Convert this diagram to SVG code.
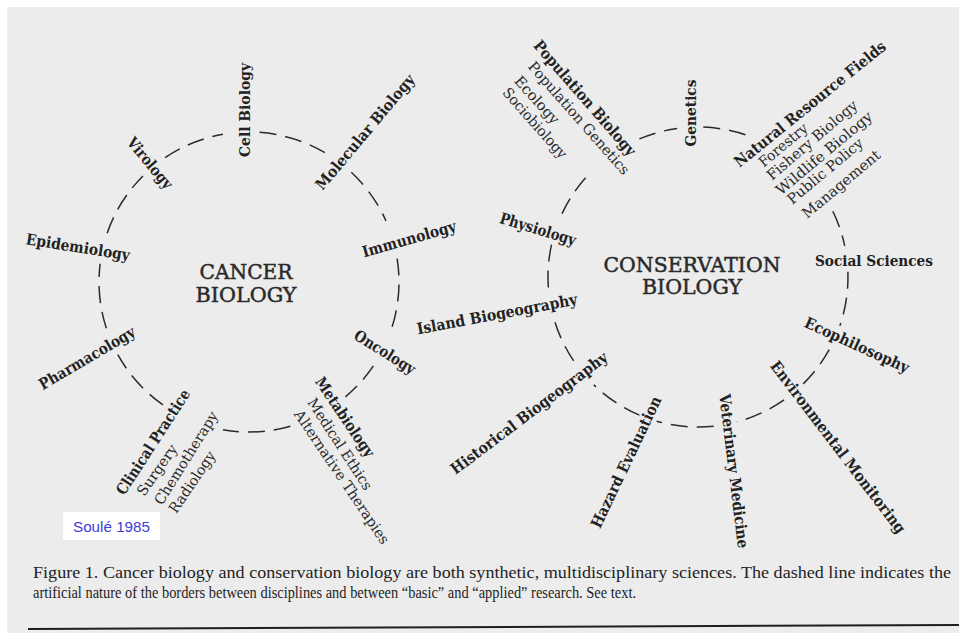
<svg xmlns="http://www.w3.org/2000/svg" width="959" height="633" viewBox="0 0 959 633">
<defs>
<style>
.bg{fill:#ececec}
.arc{fill:none;stroke:#2a2a2a;stroke-width:1.5;stroke-dasharray:17 9}
.b{font-family:"DejaVu Serif","Liberation Serif",serif;font-weight:bold;font-size:15.5px;fill:#222}
.r{font-family:"DejaVu Serif","Liberation Serif",serif;font-size:14.5px;fill:#2a2a2a}
.big{font-family:"DejaVu Serif","Liberation Serif",serif;font-size:21px;fill:#2a2a2a;stroke:#2a2a2a;stroke-width:0.5}
.cap{font-family:"Liberation Serif","Times New Roman",serif;font-size:16.5px;fill:#1e1e1e}
.src{font-family:"Liberation Sans",Arial,sans-serif;font-size:15px;fill:#3d3dd6}
</style>
</defs>
<rect width="959" height="633" fill="#ffffff"/>
<rect class="bg" x="7" y="7" width="952" height="626"/>

<g id="connectors">
<g id="cancer-border">
<path class="arc" d="M397.15,258.54 A150,150 0 0 1 389.95,333.30"/>
<path class="arc" d="M373.36,365.88 A150,150 0 0 1 345.42,396.91"/>
<path class="arc" d="M290.35,426.19 A150,150 0 0 1 222.95,429.72"/>
<path class="arc" d="M162.96,404.87 A150,150 0 0 1 117.81,354.72"/>
<path class="arc" d="M106.34,328.35 A150,150 0 0 1 100.12,263.72"/>
<path class="arc" d="M107.17,233.16 A150,150 0 0 1 142.93,175.93"/>
<path class="arc" d="M165.12,157.64 A150,150 0 0 1 222.95,134.28"/>
<path class="arc" d="M259.46,132.37 A150,150 0 0 1 326.26,153.42"/>
<path class="arc" d="M351.30,172.30 A150,150 0 0 1 386.03,220.99"/>
</g>
<g id="conservation-border">
<path class="arc" d="M847.91,271.76 A150,150 0 0 1 839.83,325.84"/>
<path class="arc" d="M829.19,349.72 A150,150 0 0 1 802.20,384.90"/>
<path class="arc" d="M784.04,399.87 A150,150 0 0 1 736.82,421.89"/>
<path class="arc" d="M713.68,426.18 A150,150 0 0 1 656.65,421.19"/>
<path class="arc" d="M639.39,415.08 A150,150 0 0 1 593.80,384.90"/>
<path class="arc" d="M573.64,360.88 A150,150 0 0 1 553.11,315.82"/>
<path class="arc" d="M548.37,287.46 A150,150 0 0 1 551.84,243.26"/>
<path class="arc" d="M562.05,213.61 A150,150 0 0 1 590.10,172.80"/>
<path class="arc" d="M639.39,138.93 A150,150 0 0 1 677.12,128.46"/>
<path class="arc" d="M703.24,127.09 A150,150 0 0 1 746.84,135.17"/>
<path class="arc" d="M832.82,211.24 A150,150 0 0 1 844.72,245.81"/>
</g>
</g>

<g id="cancer-biology" text-anchor="middle">
<text class="big" x="246" y="279" textLength="93" lengthAdjust="spacingAndGlyphs">CANCER</text>
<text class="big" x="246" y="302" textLength="101" lengthAdjust="spacingAndGlyphs">BIOLOGY</text>
</g>
<g id="cell-biology" text-anchor="middle"><text class="b" transform="translate(245 110) rotate(-90)" dy="0.35em" textLength="94" lengthAdjust="spacingAndGlyphs">Cell Biology</text></g>
<g id="virology" text-anchor="middle"><text class="b" transform="translate(150 163) rotate(50)" dy="0.35em" textLength="62" lengthAdjust="spacingAndGlyphs">Virology</text></g>
<g id="molecular-biology" text-anchor="middle"><text class="b" transform="translate(365 132) rotate(-50)" dy="0.35em" textLength="145" lengthAdjust="spacingAndGlyphs">Molecular Biology</text></g>
<g id="epidemiology" text-anchor="middle"><text class="b" transform="translate(78 247) rotate(9)" dy="0.35em" textLength="105" lengthAdjust="spacingAndGlyphs">Epidemiology</text></g>
<g id="immunology" text-anchor="middle"><text class="b" transform="translate(409 239) rotate(-16)" dy="0.35em" textLength="97" lengthAdjust="spacingAndGlyphs">Immunology</text></g>
<g id="pharmacology" text-anchor="middle"><text class="b" transform="translate(87 358) rotate(-30.5)" dy="0.35em" textLength="109" lengthAdjust="spacingAndGlyphs">Pharmacology</text></g>
<g id="oncology" text-anchor="middle"><text class="b" transform="translate(385 352) rotate(32)" dy="0.35em" textLength="69" lengthAdjust="spacingAndGlyphs">Oncology</text></g>
<g id="clinical-practice" text-anchor="middle">
<text class="b" transform="translate(153 442) rotate(-57)" dy="0.35em" textLength="122" lengthAdjust="spacingAndGlyphs">Clinical Practice</text>
<text class="r" transform="translate(157 470) rotate(-55)" dy="0.35em" textLength="59" lengthAdjust="spacingAndGlyphs">Surgery</text>
<text class="r" transform="translate(186 458) rotate(-58)" dy="0.35em" textLength="107" lengthAdjust="spacingAndGlyphs">Chemotherapy</text>
<text class="r" transform="translate(192 482) rotate(-56)" dy="0.35em" textLength="71" lengthAdjust="spacingAndGlyphs">Radiology</text>
</g>
<g id="metabiology" text-anchor="middle">
<text class="b" transform="translate(345 417) rotate(56)" dy="0.35em" textLength="93" lengthAdjust="spacingAndGlyphs">Metabiology</text>
<text class="r" transform="translate(340 444) rotate(57)" dy="0.35em" textLength="106" lengthAdjust="spacingAndGlyphs">Medical Ethics</text>
<text class="r" transform="translate(342 477) rotate(56)" dy="0.35em" textLength="158" lengthAdjust="spacingAndGlyphs">Alternative Therapies</text>
</g>

<g id="conservation-biology" text-anchor="middle">
<text class="big" x="692" y="272" textLength="177" lengthAdjust="spacingAndGlyphs">CONSERVATION</text>
<text class="big" x="692" y="294" textLength="100" lengthAdjust="spacingAndGlyphs">BIOLOGY</text>
</g>
<g id="population-biology" text-anchor="middle">
<text class="b" transform="translate(585 98) rotate(49)" dy="0.35em" textLength="147" lengthAdjust="spacingAndGlyphs">Population Biology</text>
<text class="r" transform="translate(579 118) rotate(48.7)" dy="0.35em" textLength="145" lengthAdjust="spacingAndGlyphs">Population Genetics</text>
<text class="r" transform="translate(537 100) rotate(47.7)" dy="0.35em" textLength="59" lengthAdjust="spacingAndGlyphs">Ecology</text>
<text class="r" transform="translate(535 123) rotate(48.4)" dy="0.35em" textLength="89" lengthAdjust="spacingAndGlyphs">Sociobiology</text>
</g>
<g id="genetics" text-anchor="middle"><text class="b" transform="translate(691 113) rotate(-90)" dy="0.35em" textLength="67" lengthAdjust="spacingAndGlyphs">Genetics</text></g>
<g id="natural-resource-fields" text-anchor="middle">
<text class="b" transform="translate(810 104) rotate(-39)" dy="0.35em" textLength="190" lengthAdjust="spacingAndGlyphs">Natural Resource Fields</text>
<text class="r" transform="translate(783 145) rotate(-40)" dy="0.35em" textLength="59" lengthAdjust="spacingAndGlyphs">Forestry</text>
<text class="r" transform="translate(812 140) rotate(-40.5)" dy="0.35em" textLength="114" lengthAdjust="spacingAndGlyphs">Fishery Biology</text>
<text class="r" transform="translate(824 153) rotate(-40)" dy="0.35em" textLength="121" lengthAdjust="spacingAndGlyphs">Wildlife Biology</text>
<text class="r" transform="translate(825 171) rotate(-40)" dy="0.35em" textLength="94" lengthAdjust="spacingAndGlyphs">Public Policy</text>
<text class="r" transform="translate(841 184) rotate(-40)" dy="0.35em" textLength="97" lengthAdjust="spacingAndGlyphs">Management</text>
</g>
<g id="social-sciences" text-anchor="middle"><text class="b" x="874" y="261" dy="0.35em" textLength="118" lengthAdjust="spacingAndGlyphs">Social Sciences</text></g>
<g id="ecophilosophy" text-anchor="middle"><text class="b" transform="translate(857 345) rotate(24.5)" dy="0.35em" textLength="113" lengthAdjust="spacingAndGlyphs">Ecophilosophy</text></g>
<g id="environmental-monitoring" text-anchor="middle"><text class="b" transform="translate(838 447) rotate(52.7)" dy="0.35em" textLength="212" lengthAdjust="spacingAndGlyphs">Environmental Monitoring</text></g>
<g id="veterinary-medicine" text-anchor="middle"><text class="b" transform="translate(734 471) rotate(83)" dy="0.35em" textLength="155" lengthAdjust="spacingAndGlyphs">Veterinary Medicine</text></g>
<g id="hazard-evaluation" text-anchor="middle"><text class="b" transform="translate(626 462) rotate(-64.5)" dy="0.35em" textLength="144" lengthAdjust="spacingAndGlyphs">Hazard Evaluation</text></g>
<g id="historical-biogeography" text-anchor="middle"><text class="b" transform="translate(529 413) rotate(-37)" dy="0.35em" textLength="192" lengthAdjust="spacingAndGlyphs">Historical Biogeography</text></g>
<g id="island-biogeography" text-anchor="middle"><text class="b" transform="translate(497 314) rotate(-10.6)" dy="0.35em" textLength="163" lengthAdjust="spacingAndGlyphs">Island Biogeography</text></g>
<g id="physiology" text-anchor="middle"><text class="b" transform="translate(538 229) rotate(17)" dy="0.35em" textLength="79" lengthAdjust="spacingAndGlyphs">Physiology</text></g>

<g id="source">
<rect x="63" y="512" width="97" height="28" fill="#ffffff"/>
<text class="src" x="73" y="532" textLength="77" lengthAdjust="spacingAndGlyphs">Soulé 1985</text>
</g>

<g id="caption">
<text class="cap" x="33" y="578" textLength="918" lengthAdjust="spacingAndGlyphs">Figure 1. Cancer biology and conservation biology are both synthetic, multidisciplinary sciences. The dashed line indicates the</text>
<text class="cap" x="33" y="598" textLength="603" lengthAdjust="spacingAndGlyphs">artificial nature of the borders between disciplines and between “basic” and “applied” research. See text.</text>
<line x1="28" y1="629" x2="959" y2="625" stroke="#1e1e1e" stroke-width="2"/>
</g>
</svg>
